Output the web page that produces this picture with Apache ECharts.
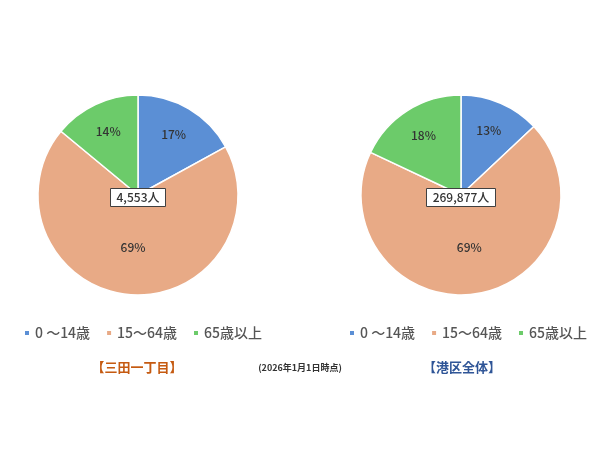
<!DOCTYPE html>
<html><head><meta charset="utf-8">
<script src="https://cdn.jsdelivr.net/npm/echarts@6/dist/echarts.min.js"></script>
<style>html,body{margin:0;padding:0;background:#fff}#c{width:600px;height:450px}</style>
</head><body><div id="c"></div>
<script>
const categories = ['0 ～14歳', '15～64歳', '65歳以上'];
const mitaValues = [17, 69, 14];
const minatoValues = [13, 69, 18];
const totals = ['4,553人', '269,877人'];
const areaTitles = ['【三田一丁目】', '【港区全体】'];
const dateNote = '(2026年1月1日時点)';
const colors = ['#5B8FD5', '#E8AA86', '#6CCB6A'];
const FONT = '"Noto Sans CJK JP", "Noto Sans", sans-serif';

function mainSeries(values, cx) {
  return {
    type: 'pie', center: [cx, 195], radius: [0, 100], startAngle: 90, clockwise: true,
    silent: true, animation: false,
    itemStyle: { borderColor: '#fff', borderWidth: 1.5 },
    label: { show: true, position: 'inside', formatter: '{c}%', color: '#333', fontSize: 12, fontWeight: 500, fontFamily: FONT },
    labelLine: { show: false },
    data: categories.map((n, i) => ({ name: n, value: values[i], itemStyle: { color: colors[i] },
      label: { show: values[i] >= 50 } }))
  };
}
function overlaySeries(values, cx) {
  return {
    type: 'pie', center: [cx, 195], radius: [34, 100], startAngle: 90, clockwise: true,
    silent: true, animation: false,
    itemStyle: { color: 'rgba(0,0,0,0)', borderWidth: 0 },
    label: { show: true, position: 'inside', formatter: '{c}%', color: '#333', fontSize: 12, fontWeight: 500, fontFamily: FONT },
    labelLine: { show: false },
    data: categories.map((n, i) => ({ name: n, value: values[i],
      label: { show: values[i] < 50 } }))
  };
}
function legend(left) {
  return {
    data: categories, left: left, top: 321, orient: 'horizontal', icon: 'rect',
    itemWidth: 6, itemHeight: 6, itemGap: 15, selectedMode: false,
    textStyle: { color: '#555', fontSize: 14, fontWeight: 500, fontFamily: FONT }
  };
}
function boxTitle(text, x) {
  return {
    text: text, left: x - 6, top: 188, textAlign: 'center', padding: [2, 6],
    backgroundColor: '#fff', borderColor: '#404040', borderWidth: 1,
    textStyle: { color: '#333', fontSize: 12, fontWeight: 500, fontFamily: FONT, lineHeight: 15 }
  };
}
const chart = echarts.init(document.getElementById('c'));
chart.setOption({
  backgroundColor: '#fff',
  animation: false,
  title: [
    boxTitle(totals[0], 138),
    boxTitle(totals[1], 461),
    { text: areaTitles[0], left: 137, top: 361, textAlign: 'center', padding: 0,
      textStyle: { color: '#C55A11', fontSize: 13, fontWeight: 'bold', fontFamily: FONT } },
    { text: areaTitles[1], left: 462, top: 361, textAlign: 'center', padding: 0,
      textStyle: { color: '#2F5597', fontSize: 13, fontWeight: 'bold', fontFamily: FONT } },
    { text: dateNote, left: 300, top: 363, textAlign: 'center', padding: 0,
      textStyle: { color: '#333', fontSize: 9, fontWeight: 'bold', fontFamily: FONT } }
  ],
  legend: [legend(18), legend(343)],
  series: [
    mainSeries(mitaValues, 138),
    mainSeries(minatoValues, 461),
    overlaySeries(mitaValues, 138),
    overlaySeries(minatoValues, 461)
  ]
});
</script></body></html>
